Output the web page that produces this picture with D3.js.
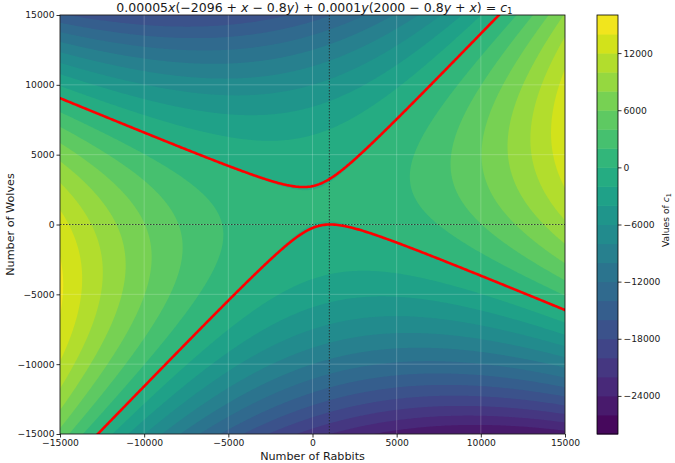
<!DOCTYPE html>
<html>
<head>
<meta charset="utf-8">
<script src="https://cdn.jsdelivr.net/npm/d3@7"></script>
<style>
body { margin: 0; background: #fff; }
text { font-family: "DejaVu Sans", sans-serif; fill: #1a1a1a; }
</style>
</head>
<body>
<div id="chart"></div>
<script>
// c1 = a*x*(b + c*x + d*y) + e*y*(f + g*y + h*x), coefficients from the title
var rabbitTerm = [0.00005, -2096, 1, -0.8];
var wolfTerm = [0.0001, 2000, -0.8, 1];
// point the red curve goes through (where the dotted lines cross)
var startPoint = [1000, 0];
var levels = [-28000, -26000, -24000, -22000, -20000, -18000, -16000, -14000, -12000,
    -10000, -8000, -6000, -4000, -2000, 0, 2000, 4000, 6000, 8000, 10000, 12000, 14000, 16000];
var axisTicks = [-15000, -10000, -5000, 0, 5000, 10000, 15000];
var barTicks = [-24000, -18000, -12000, -6000, 0, 6000, 12000];

var width = 675, height = 463;
var plotL = 60, plotR = 565, plotT = 15, plotB = 434;

function c1(x, y) {
    return rabbitTerm[0] * x * (rabbitTerm[1] + rabbitTerm[2] * x + rabbitTerm[3] * y) +
        wolfTerm[0] * y * (wolfTerm[1] + wolfTerm[2] * y + wolfTerm[3] * x);
}

var svg = d3.select("#chart")
    .append("svg")
    .attr("width", width)
    .attr("height", height);

var x = d3.scaleLinear().domain([-15000, 15000]).range([plotL, plotR]);
var y = d3.scaleLinear().domain([-15000, 15000]).range([plotB, plotT]);

svg.append("clipPath")
    .attr("id", "plotclip")
    .append("rect")
    .attr("x", plotL).attr("y", plotT)
    .attr("width", plotR - plotL).attr("height", plotB - plotT);

// sample the function a bit past the axes so the grid edges get clipped away
var step = 100, lo = -16000, n = 321;
var values = new Array(n * n);
for (var j = 0; j < n; j++) {
    for (var i = 0; i < n; i++) {
        values[j * n + i] = c1(lo + i * step, -lo - j * step);
    }
}

var toScreen = d3.geoTransform({
    point: function (gx, gy) {
        this.stream.point(x(lo + (gx - 0.5) * step), y(-lo - (gy - 0.5) * step));
    }
});
var path = d3.geoPath().projection(toScreen);

var nBands = levels.length - 1;
var color = function (k) { return d3.interpolateViridis((k + 0.5) / nBands); };

var contours = d3.contours().size([n, n]).thresholds(levels.slice(0, -1))(values);

var plot = svg.append("g").attr("clip-path", "url(#plotclip)");

plot.selectAll("path.band")
    .data(contours)
    .enter().append("path")
    .attr("class", "band")
    .attr("d", path)
    .attr("fill", (d, k) => color(k));

// grid
plot.selectAll("line.gx")
    .data(axisTicks)
    .enter().append("line")
    .attr("x1", d => x(d)).attr("x2", d => x(d))
    .attr("y1", plotT).attr("y2", plotB)
    .style("stroke", "#ffffff").style("stroke-opacity", 0.25).style("stroke-width", 0.8);
plot.selectAll("line.gy")
    .data(axisTicks)
    .enter().append("line")
    .attr("y1", d => y(d)).attr("y2", d => y(d))
    .attr("x1", plotL).attr("x2", plotR)
    .style("stroke", "#ffffff").style("stroke-opacity", 0.25).style("stroke-width", 0.8);

// dotted lines through the start point
plot.append("line")
    .attr("x1", plotL).attr("x2", plotR)
    .attr("y1", y(startPoint[1])).attr("y2", y(startPoint[1]))
    .style("stroke", "#222").style("stroke-opacity", 0.8)
    .style("stroke-width", 1).style("stroke-dasharray", "1.5,1.5");
plot.append("line")
    .attr("x1", x(startPoint[0])).attr("x2", x(startPoint[0]))
    .attr("y1", plotT).attr("y2", plotB)
    .style("stroke", "#222").style("stroke-opacity", 0.8)
    .style("stroke-width", 1).style("stroke-dasharray", "1.5,1.5");

// red level curve
var redLevel = c1(startPoint[0], startPoint[1]);
var redCurve = d3.contours().size([n, n]).thresholds([redLevel])(values);
plot.selectAll("path.red")
    .data(redCurve)
    .enter().append("path")
    .attr("class", "red")
    .attr("d", path)
    .attr("fill", "none")
    .style("stroke", "#ff0000")
    .style("stroke-width", 2.6)
    .style("stroke-linejoin", "round");

// axes
var fmt = d3.format("d");
var xAxis = svg.append("g")
    .attr("transform", "translate(0," + plotB + ")")
    .call(d3.axisBottom(x).tickValues(axisTicks).tickSize(3.5).tickPadding(2).tickFormat(fmt));
var yAxis = svg.append("g")
    .attr("transform", "translate(" + plotL + ",0)")
    .call(d3.axisLeft(y).tickValues(axisTicks).tickSize(3.5).tickPadding(2).tickFormat(fmt));
[xAxis, yAxis].forEach(function (a) {
    a.select(".domain").remove();
    a.selectAll(".tick line").style("stroke", "#000").style("stroke-width", 0.8);
    a.selectAll(".tick text").style("font-size", "9.2px").style("font-family", "DejaVu Sans").attr("fill", "#1a1a1a");
});

svg.append("rect")
    .attr("x", plotL).attr("y", plotT)
    .attr("width", plotR - plotL).attr("height", plotB - plotT)
    .attr("fill", "none")
    .style("stroke", "#000").style("stroke-width", 0.8);

svg.append("text")
    .attr("x", (plotL + plotR) / 2)
    .attr("y", 460)
    .attr("text-anchor", "middle")
    .style("font-size", "11.2px")
    .text("Number of Rabbits");

svg.append("text")
    .attr("transform", "translate(14," + (plotT + plotB) / 2 + ") rotate(-90)")
    .attr("text-anchor", "middle")
    .style("font-size", "11.2px")
    .text("Number of Wolves");

// title (math text)
var titleParts = [
    ["0.00005", ""], ["x", "i"], ["(\u22122096 + ", ""], ["x", "i"], [" \u2212 0.8", ""], ["y", "i"],
    [") + 0.0001", ""], ["y", "i"], ["(2000 \u2212 0.8", ""], ["y", "i"], [" + ", ""], ["x", "i"],
    [") = ", ""], ["c", "i"], ["1", "s"]
];
var title = svg.append("text")
    .attr("x", (plotL + plotR) / 2 + 2)
    .attr("y", 11.5)
    .attr("text-anchor", "middle")
    .style("font-size", "12.5px");
titleParts.forEach(function (p) {
    var t = title.append("tspan").text(p[0]);
    if (p[1] == "i") t.style("font-style", "italic");
    if (p[1] == "s") t.style("font-size", "8.8px").attr("dy", 2.2);
});

// colorbar
var cbLeft = 597, cbRight = 618;
var cy = d3.scaleLinear().domain([levels[0], levels[levels.length - 1]]).range([plotB, plotT]);
svg.selectAll("rect.cb")
    .data(levels.slice(0, -1))
    .enter().append("rect")
    .attr("class", "cb")
    .attr("x", cbLeft)
    .attr("width", cbRight - cbLeft)
    .attr("y", (d, k) => cy(levels[k + 1]))
    .attr("height", (d, k) => cy(levels[k]) - cy(levels[k + 1]) + 0.5)
    .attr("fill", (d, k) => color(k));
svg.append("rect")
    .attr("x", cbLeft).attr("y", plotT)
    .attr("width", cbRight - cbLeft).attr("height", plotB - plotT)
    .attr("fill", "none")
    .style("stroke", "#000").style("stroke-width", 0.8);
var cbAxis = svg.append("g")
    .attr("transform", "translate(" + cbRight + ",0)")
    .call(d3.axisRight(cy).tickValues(barTicks).tickSize(3.5).tickPadding(2).tickFormat(fmt));
cbAxis.select(".domain").remove();
cbAxis.selectAll(".tick line").style("stroke", "#000").style("stroke-width", 0.8);
cbAxis.selectAll(".tick text").style("font-size", "9.2px").style("font-family", "DejaVu Sans").attr("fill", "#1a1a1a");

var cbLabel = svg.append("text")
    .attr("transform", "translate(669,220) rotate(-90)")
    .attr("text-anchor", "middle")
    .style("font-size", "9.2px");
cbLabel.append("tspan").text("Values of ");
cbLabel.append("tspan").text("c").style("font-style", "italic");
cbLabel.append("tspan").text("1").style("font-size", "6.5px").attr("dy", 2);
</script>
</body>
</html>
